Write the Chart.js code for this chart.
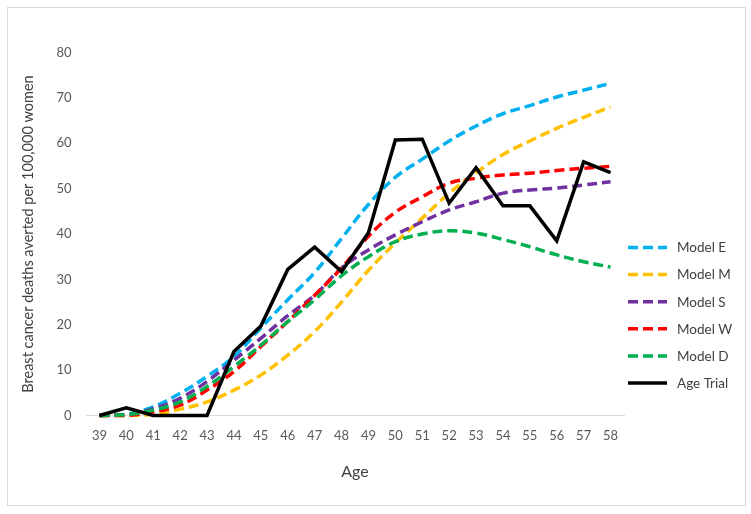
<!DOCTYPE html>
<html>
<head>
<meta charset="utf-8">
<script src="https://cdn.jsdelivr.net/npm/chart.js@4/dist/chart.umd.min.js"></script>
<style>
  html, body { margin: 0; padding: 0; background: #ffffff; }
  #wrap { position: relative; width: 751px; height: 514px; }
  #frame { position: absolute; left: 7px; top: 7px; width: 739px; height: 499px; border: 1px solid #d9d9d9; box-sizing: border-box; }
  canvas { position: absolute; left: 0; top: 0; }
</style>
</head>
<body>
<div id="wrap">
  <div id="frame"></div>
  <canvas id="c" width="751" height="514"></canvas>
</div>
<script>
const ages = ['39','40','41','42','43','44','45','46','47','48','49','50','51','52','53','54','55','56','57','58'];
const modelE = [0, 0.3, 1.9, 4.9, 8.6, 13.0, 19.3, 25.5, 31.5, 39.0, 46.5, 52.5, 56.5, 60.5, 63.8, 66.5, 68.3, 70.2, 71.7, 73.2];
const modelM = [0, 0, 0.3, 1.4, 3.0, 5.6, 8.9, 13.3, 18.5, 25.0, 32.0, 38.0, 43.5, 49.0, 53.5, 57.5, 60.5, 63.3, 65.7, 68.0];
const modelS = [0, 0.2, 1.5, 3.8, 7.5, 12.2, 17.0, 22.0, 26.5, 32.5, 36.5, 39.8, 42.7, 45.3, 47.1, 49.0, 49.7, 50.1, 50.8, 51.5];
const modelW = [0, 0, 0.8, 2.3, 5.6, 9.7, 15.2, 20.7, 26.5, 32.5, 39.5, 44.8, 48.2, 51.2, 52.3, 53.0, 53.4, 54.0, 54.5, 54.9];
const modelD = [0, 0.2, 1.2, 3.0, 6.4, 10.8, 15.5, 20.7, 25.5, 30.8, 35.0, 38.3, 40.0, 40.7, 40.2, 38.8, 37.2, 35.4, 33.9, 32.7];
const ageTrial = [0, 1.7, 0, 0, 0, 14.1, 19.7, 32.2, 37.1, 31.7, 40.3, 60.7, 60.9, 46.8, 54.6, 46.2, 46.2, 38.5, 55.9, 53.5];
const yTicks = [0, 10, 20, 30, 40, 50, 60, 70, 80];

const FONT = 'Lato, "Open Sans", sans-serif';
const DASH = [10, 5];

function dashed(label, data, color, order) {
  return { label, data, borderColor: color, backgroundColor: color, borderWidth: 3.5,
           borderDash: DASH, tension: 0.4, pointRadius: 0, pointHoverRadius: 0,
           fill: false, clip: false, order };
}

const legendPlugin = {
  id: 'customLegend',
  afterDraw(chart, args, opts) {
    const ctx = chart.ctx;
    ctx.save();
    chart.data.datasets.forEach((ds, i) => {
      const y = opts.top + i * opts.spacing;
      ctx.beginPath();
      ctx.setLineDash(ds.borderDash || []);
      ctx.lineWidth = ds.borderWidth;
      ctx.strokeStyle = ds.borderColor;
      ctx.moveTo(opts.left, y);
      ctx.lineTo(opts.left + opts.lineLen, y);
      ctx.stroke();
      ctx.setLineDash([]);
      ctx.fillStyle = opts.color;
      ctx.font = opts.font;
      ctx.textBaseline = 'middle';
      ctx.textAlign = 'left';
      ctx.fillText(ds.label, opts.left + opts.lineLen + opts.gap, y + 0.5);
    });
    ctx.restore();
  }
};

new Chart(document.getElementById('c'), {
  type: 'line',
  data: {
    labels: ages,
    datasets: [
      dashed('Model E', modelE, '#00B0F0', 6),
      dashed('Model M', modelM, '#FFC000', 5),
      dashed('Model S', modelS, '#7030A0', 4),
      dashed('Model W', modelW, '#FF0000', 3),
      dashed('Model D', modelD, '#00B050', 2),
      { label: 'Age Trial', data: ageTrial, borderColor: '#000000', backgroundColor: '#000000',
        borderWidth: 3.5, tension: 0, pointRadius: 0, pointHoverRadius: 0, fill: false, clip: false, order: 1 }
    ]
  },
  options: {
    responsive: false,
    animation: false,
    events: [],
    layout: { padding: { left: 0, right: 127, top: 52.5, bottom: 0 } },
    plugins: {
      legend: { display: false },
      tooltip: { enabled: false },
      customLegend: { left: 628, top: 247.5, spacing: 27.1, lineLen: 39, gap: 10,
                      font: '13.5px ' + FONT, color: '#404040' }
    },
    scales: {
      x: {
        type: 'category',
        offset: true,
        grid: { display: false, drawTicks: false },
        border: { display: true, color: '#d9d9d9', width: 1 },
        ticks: { color: '#595959', font: { family: FONT, size: 13 }, padding: 13, maxRotation: 0, autoSkip: false },
        title: { display: true, text: 'Age', color: '#404040', font: { family: FONT, size: 16 }, padding: { top: 0, bottom: 33 } },
        afterFit(s) { s.height = 98.5; }
      },
      y: {
        min: 0, max: 80,
        afterBuildTicks(s) { s.ticks = yTicks.map(v => ({ value: v })); },
        grid: { display: false, drawTicks: false },
        border: { display: false },
        ticks: { color: '#595959', font: { family: FONT, size: 13 }, padding: 14.5 },
        title: { display: true, text: 'Breast cancer deaths averted per 100,000 women', color: '#404040',
                 font: { family: FONT, size: 14.5 }, padding: { top: 19.5, bottom: 0 } },
        afterFit(s) { s.width = 86; }
      }
    }
  },
  plugins: [legendPlugin]
});
</script>
</body>
</html>
